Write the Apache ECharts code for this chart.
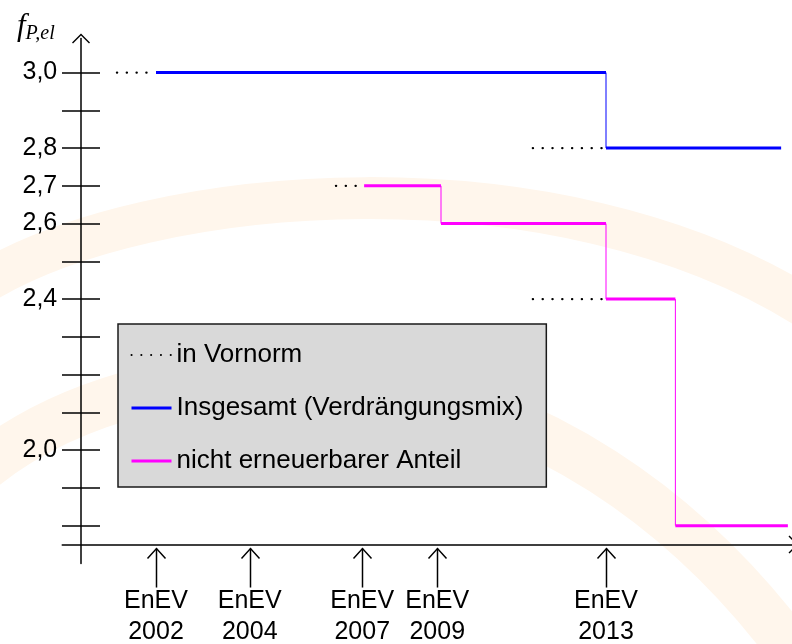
<!DOCTYPE html>
<html>
<head>
<meta charset="utf-8">
<script src="https://cdn.jsdelivr.net/npm/echarts@6/dist/echarts.min.js"></script>
<style>
    html, body { margin: 0; padding: 0; background: #fff; }
    #chart { width: 792px; height: 644px; }
</style>
</head>
<body>
<div id="chart"></div>
<script>
    // x = schematische Position auf der Zeitachse (nicht maßstäblich)
    const enevYears = ['2002', '2004', '2007', '2009', '2013'];
    const enevPos = [2, 4.5, 7.5, 9.5, 14];

    // Insgesamt (Verdrängungsmix)
    const gesamtStart = [2, 14];
    const gesamtEnd = [14, 18.67];
    const gesamtValue = [3.0, 2.8];

    // nicht erneuerbarer Anteil
    const anteilStart = [7.55, 9.6, 14, 15.85];
    const anteilEnd = [9.6, 14, 15.85, 18.85];
    const anteilValue = [2.7, 2.6, 2.4, 1.8];

    // Werte in der Vornorm (gepunktet)
    const vornormStart = [0.96, 12.05, 12.05, 6.8];
    const vornormEnd = [1.97, 13.95, 13.95, 7.5];
    const vornormValue = [3.0, 2.8, 2.4, 2.7];

    const yTicks = [1.8, 1.9, 2.0, 2.1, 2.2, 2.3, 2.4, 2.5, 2.6, 2.7, 2.8, 2.9, 3.0];
    const yLabels = [2.0, 2.4, 2.6, 2.7, 2.8, 3.0];

    const FONT = 'Liberation Sans, Arial, sans-serif';
    const chevron = 'path://M0,9 L9,0 L18,9 L17,10 L9,2 L1,10 Z';

    function levels(starts, ends, values) {
        let d = [];
        for (let i = 0; i < values.length; i++) {
            d.push([starts[i], values[i]], [ends[i], values[i]], [ends[i], '-']);
        }
        return d;
    }

    function risers(ends, values) {
        let d = [];
        for (let i = 0; i < values.length - 1; i++) {
            d.push([ends[i], values[i]], [ends[i], values[i + 1]], [ends[i], '-']);
        }
        return d;
    }

    let chart = echarts.init(document.getElementById('chart'));

    let option = {
        animation: false,
        title: {
            text: '{f|f}{s|P,el}',
            left: 12,
            top: 4,
            textStyle: {
                rich: {
                    f: { fontFamily: 'Liberation Serif, serif', fontStyle: 'italic', fontWeight: 'normal', fontSize: 31, lineHeight: 35, color: '#000' },
                    s: { fontFamily: 'Liberation Serif, serif', fontStyle: 'italic', fontWeight: 'normal', fontSize: 20, color: '#000', verticalAlign: 'bottom' }
                }
            }
        },
        graphic: [
            {
                type: 'bezierCurve', z: -10, silent: true,
                shape: { x1: -20, y1: 285, cpx1: 150, cpy1: 180, cpx2: 560, cpy2: 150, x2: 810, y2: 310 },
                style: { stroke: '#fff6ec', lineWidth: 42, fill: null }
            },
            {
                type: 'bezierCurve', z: -10, silent: true,
                shape: { x1: -20, y1: 470, cpx1: 150, cpy1: 330, cpx2: 560, cpy2: 300, x2: 820, y2: 690 },
                style: { stroke: '#fff6ec', lineWidth: 48, fill: null }
            }
        ],
        legend: {
            data: [
                { name: 'in Vornorm' },
                { name: 'Insgesamt (Verdrängungsmix)', lineStyle: { width: 3 } },
                { name: 'nicht erneuerbarer Anteil', lineStyle: { width: 3 } }
            ],
            orient: 'vertical',
            left: 118,
            top: 324,
            padding: [18, 23, 13, 12],
            itemGap: 27,
            itemWidth: 40,
            itemHeight: 26,
            backgroundColor: '#d9d9d9',
            borderColor: '#1a1a1a',
            borderWidth: 1.5,
            selectedMode: false,
            itemStyle: { color: 'rgba(0,0,0,0)', borderColor: 'rgba(0,0,0,0)', borderWidth: 0 },
            textStyle: { fontSize: 26, color: '#000', fontFamily: FONT }
        },
        grid: {
            left: 62.25,
            top: 38.6,
            width: 731.25,
            height: 524.8,
            outerBoundsMode: 'none'
        },
        xAxis: {
            type: 'value',
            min: -0.5,
            max: 19,
            offset: -18.9,
            axisLine: {
                onZero: false,
                lineStyle: { color: '#000', width: 1.5 },
                symbol: ['none', chevron],
                symbolSize: [18, 10]
            },
            axisTick: { show: false },
            splitLine: { show: false },
            axisLabel: {
                customValues: enevPos,
                formatter: v => 'EnEV\n' + enevYears[enevPos.indexOf(v)],
                margin: 41,
                fontSize: 25,
                lineHeight: 31,
                color: '#000',
                fontFamily: FONT
            }
        },
        yAxis: [
            {
                type: 'value',
                min: 1.7,
                max: 3.09,
                position: 'left',
                axisLine: {
                    onZero: true,
                    lineStyle: { color: '#000', width: 1.5 },
                    symbol: ['none', chevron],
                    symbolSize: [18, 10]
                },
                axisTick: { show: true, customValues: yTicks, length: 19, inside: false, lineStyle: { color: '#000', width: 1.5 } },
                axisLabel: {
                    customValues: yLabels,
                    formatter: v => v.toFixed(1).replace('.', ','),
                    margin: 5,
                    fontSize: 25,
                    color: '#000',
                    fontFamily: FONT
                },
                splitLine: { show: false }
            },
            {
                // nur für den rechten Teil der Striche an der y-Achse
                type: 'value',
                min: 1.7,
                max: 3.09,
                position: 'left',
                offset: -18.75,
                axisLine: { show: false, onZero: false },
                axisTick: { show: true, customValues: yTicks, length: 19, inside: true, lineStyle: { color: '#000', width: 1.5 } },
                axisLabel: { show: false },
                splitLine: { show: false }
            }
        ],
        series: [
            {
                name: 'in Vornorm',
                type: 'line',
                data: levels(vornormStart, vornormEnd, vornormValue),
                symbol: 'none',
                color: '#000',
                lineStyle: { color: '#000', width: 2.4, type: [0.1, 9.7], cap: 'round' },
                z: 3
            },
            {
                name: 'Insgesamt (Verdrängungsmix)',
                type: 'line',
                data: levels(gesamtStart, gesamtEnd, gesamtValue),
                symbol: 'none',
                color: '#0000ff',
                lineStyle: { color: '#0000ff', width: 3 },
                z: 4
            },
            {
                name: 'gesamtStufen',
                type: 'line',
                data: risers(gesamtEnd, gesamtValue),
                symbol: 'none',
                lineStyle: { color: '#0000ff', width: 1 },
                z: 3
            },
            {
                name: 'nicht erneuerbarer Anteil',
                type: 'line',
                data: levels(anteilStart, anteilEnd, anteilValue),
                symbol: 'none',
                color: '#ff00ff',
                lineStyle: { color: '#ff00ff', width: 3 },
                z: 4
            },
            {
                name: 'anteilStufen',
                type: 'line',
                data: risers(anteilEnd, anteilValue),
                symbol: 'none',
                lineStyle: { color: '#ff00ff', width: 1 },
                z: 3
            },
            {
                // Pfeile unter der Zeitachse
                name: 'EnEV',
                type: 'custom',
                silent: true,
                clip: false,
                data: enevPos.map(p => [p, 1.75]),
                encode: { x: 0, y: 1 },
                renderItem: function (params, api) {
                    let pt = api.coord([api.value(0), api.value(1)]);
                    let x = Math.round(pt[0]) + 0.5;
                    let y = pt[1];
                    return {
                        type: 'group',
                        children: [
                            { type: 'line', shape: { x1: x, y1: y + 4, x2: x, y2: y + 43 }, style: { stroke: '#000', lineWidth: 1.5 } },
                            { type: 'polyline', shape: { points: [[x - 9, y + 14], [x, y + 4], [x + 9, y + 14]] }, style: { stroke: '#000', lineWidth: 1.5, fill: null } }
                        ]
                    };
                }
            }
        ]
    };

    chart.setOption(option);
</script>
</body>
</html>
